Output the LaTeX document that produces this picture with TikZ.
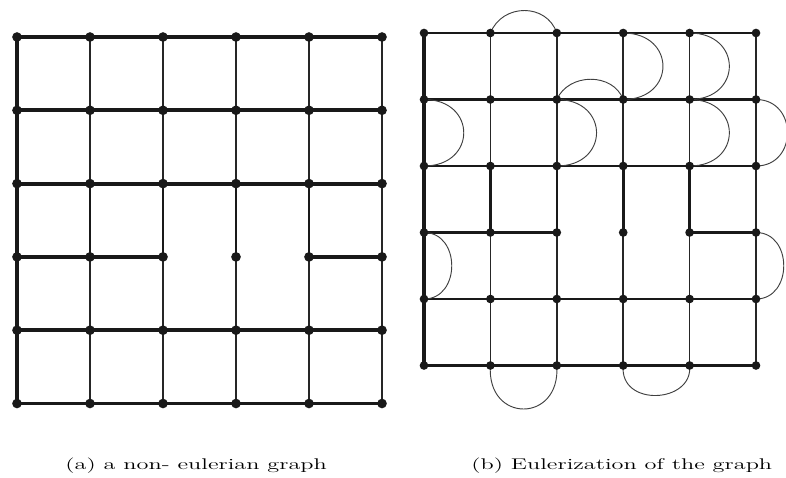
\documentclass[tikz,border=0pt]{standalone}
\usepackage{tikz}
\usetikzlibrary{calc}
\tikzset{
  vtx/.style={circle,fill=black!90,inner sep=0pt,minimum size=2.9mm},
  vtxb/.style={circle,fill=black!90,inner sep=0pt,minimum size=2.6mm},
  heavy/.style={line width=3.3pt,draw=black!90},
  medium/.style={line width=2.5pt,draw=black!90},
  light/.style={line width=1.6pt,draw=black!85},
  extra/.style={line width=0.8pt,draw=black!75},
  caption/.style={font=\fontsize{13.2}{15}\selectfont,inner sep=0pt,xscale=1.57},
}
\begin{document}
\begin{tikzpicture}[x=0.03cm,y=-0.03cm]
  \useasboundingbox (0,0) rectangle (786,477);
  % vertices of both grids
  \foreach \i in {0,...,5}{
    \foreach \j in {0,...,5}{
      \coordinate (pa-\i-\j) at ({17+73*\i},{37+73.3*\j});
      \coordinate (pb-\i-\j) at ({424+66.4*\i},{33+66.5*\j});
    }
  }
  % (a) non-eulerian graph
  \foreach \j in {0,1,2,4,5}{
    \foreach \i [evaluate=\i as \k using int(\i+1)] in {0,...,4}
      \draw[heavy] (pa-\i-\j) -- (pa-\k-\j);
  }
  \draw[heavy] (pa-0-3) -- (pa-1-3) -- (pa-2-3);
  \draw[heavy] (pa-4-3) -- (pa-5-3);
  \draw[heavy] (pa-0-0) -- (pa-0-5);
  \foreach \i in {1,...,5}{
    \foreach \j [evaluate=\j as \k using int(\j+1)] in {0,1,3,4}
      \draw[light] (pa-\i-\j) -- (pa-\i-\k);
  }
  \foreach \i in {1,2,3,4}
    \draw[medium] (pa-\i-2) -- (pa-\i-3);
  \draw[light] (pa-5-2) -- (pa-5-3);
  \foreach \i in {0,...,5}{
    \foreach \j in {0,...,5}
      \node[vtx] (a-\i-\j) at (pa-\i-\j) {};
  }
  % (b) eulerization
  \foreach \j in {0,1,2,4,5}{
    \foreach \i [evaluate=\i as \k using int(\i+1)] in {0,...,4}
      \draw[medium,line width=2.3pt] (pb-\i-\j) -- (pb-\k-\j);
  }
  \draw[medium,line width=2.3pt] (pb-0-3) -- (pb-1-3) -- (pb-2-3);
  \draw[medium,line width=2.3pt] (pb-4-3) -- (pb-5-3);
  \draw[heavy,line width=2.9pt] (pb-0-0) -- (pb-0-5);
  \foreach \i in {1,...,5}{
    \foreach \j [evaluate=\j as \k using int(\j+1)] in {0,1,3,4}
      \draw[light,line width=1.45pt] (pb-\i-\j) -- (pb-\i-\k);
  }
  \foreach \i in {1,2,4}
    \draw[medium,line width=2.2pt] (pb-\i-2) -- (pb-\i-3);
  \draw[heavy,line width=2.9pt] (pb-3-2) -- (pb-3-3);
  \draw[light,line width=1.45pt] (pb-5-2) -- (pb-5-3);
  % duplicated edges
  \draw[extra] (pb-1-0) .. controls +(12,-30) and +(-10,-30) .. (pb-2-0);
  \draw[extra] (pb-2-1) .. controls +(12,-27) and +(-10,-27) .. (pb-3-1);
  \draw[extra] (pb-3-0) .. controls +(53,0) and +(53,0) .. (pb-3-1);
  \draw[extra] (pb-4-0) .. controls +(53,0) and +(53,0) .. (pb-4-1);
  \draw[extra] (pb-0-1) .. controls +(53,0) and +(53,0) .. (pb-0-2);
  \draw[extra] (pb-2-1) .. controls +(53,0) and +(53,0) .. (pb-2-2);
  \draw[extra] (pb-4-1) .. controls +(53,0) and +(53,0) .. (pb-4-2);
  \draw[extra] (pb-5-1) .. controls +(42,0) and +(42,0) .. (pb-5-2);
  \draw[extra] (pb-0-3) .. controls +(37,0) and +(37,0) .. (pb-0-4);
  \draw[extra] (pb-5-3) .. controls +(37,0) and +(37,0) .. (pb-5-4);
  \draw[extra] (pb-1-5) .. controls +(-4,58) and +(4,58) .. (pb-2-5);
  \draw[extra] (pb-3-5) .. controls +(-4,42) and +(4,38) .. (pb-4-5);
  \foreach \i in {0,...,5}{
    \foreach \j in {0,...,5}
      \node[vtxb] (b-\i-\j) at (pb-\i-\j) {};
  }
  % captions
  \coordinate (capapos) at (65,469);
  \coordinate (capbpos) at (471,469);
  \node[caption,anchor=base west] (capa) at (capapos) {(a) a non- eulerian graph};
  \node[caption,anchor=base west] (capb) at (capbpos) {(b) Eulerization of the graph};
\end{tikzpicture}
\end{document}
